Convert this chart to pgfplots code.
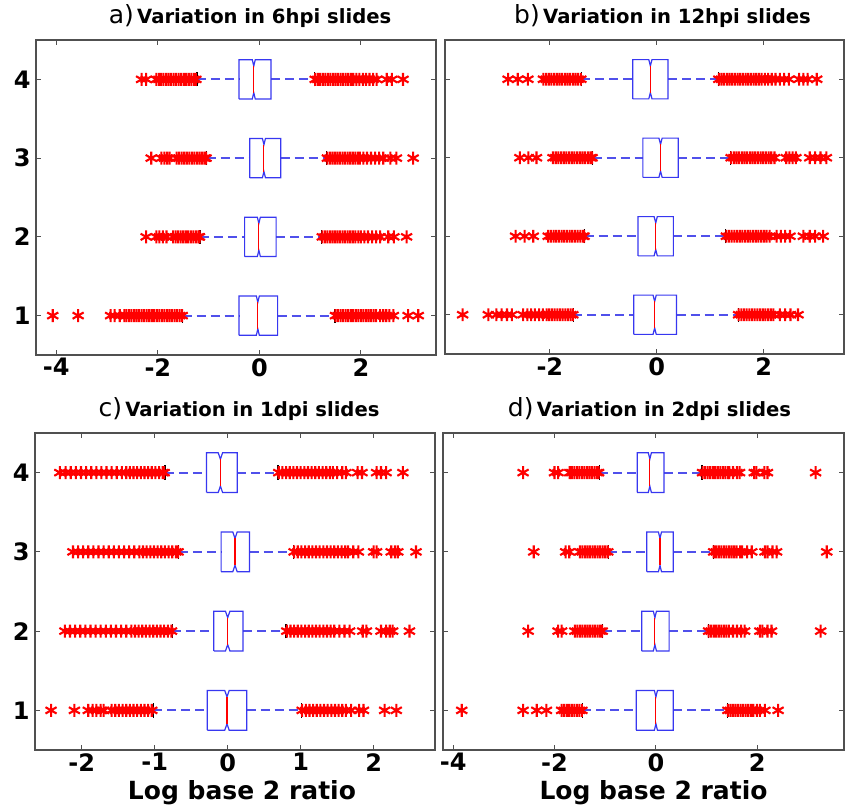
\documentclass[border=0pt]{standalone}
\usepackage{pgfplots}
\pgfplotsset{compat=1.18}
\usepackage{fontspec}
\setmainfont{DejaVu Sans}
\definecolor{bxblue}{RGB}{55,55,240}
\definecolor{wkblue}{RGB}{80,80,235}
\definecolor{frame}{RGB}{80,80,80}
\pgfplotsset{
  panel/.style={
    scale only axis, anchor=north west,
    ymin=0.5, ymax=4.5, ytick={1,2,3,4},
    tick align=inside, tick pos=both, major tick length=2.5pt,
    axis line style={frame, line width=0.6pt},
    every tick/.style={frame, line width=0.5pt},
    ticklabel style={font=\bfseries\fontsize{12}{12}\selectfont},
    xticklabel style={inner sep=1.5pt},
    yticklabel style={inner sep=2.5pt},
    /pgf/number format/assume math mode=true,
    every axis title/.style={at={(0.5,1)}, anchor=base, inner sep=0pt, yshift=8pt},
    every axis x label/.style={at={(0.5,0)}, anchor=base, inner sep=0pt, yshift=-25pt, font=\bfseries\fontsize{12.5}{13}\selectfont},
  },
  box/.style={bxblue, line width=0.6pt, mark=none},
  med/.style={red, line width=0.55pt, mark=none},
  whisk/.style={wkblue, line width=0.9pt, mark=none, dash pattern=on 4.5pt off 2.5pt},
  cap/.style={black, line width=0.6pt, mark=none},
  outl/.style={only marks, mark=asterisk, mark size=3.2pt, red, mark options={line width=1.05pt}},
}
\newcommand{\ttl}[2]{{\fontsize{12.5}{12}\selectfont #1}\,{\bfseries\fontsize{9.8}{12}\selectfont #2}}
\begin{document}
\begin{tikzpicture}
\path[use as bounding box] (0,0) rectangle (426.5pt,-406pt);
% ---------------- a ----------------
\begin{axis}[panel, at={(18pt,-20pt)}, width=200pt, height=157.5pt,
  xmin=-4.4, xmax=3.48, xtick={-4,-2,0,2},
  title={\ttl{a)}{Variation in 6hpi slides}}, title style={xshift=7pt}]
\addplot[whisk] table {
-1.23 4
-0.40 4

0.23 4
1.09 4

-1.04 3
-0.19 3

0.42 3
1.33 3

-1.17 2
-0.29 2

0.33 2
1.23 2

-1.51 1
-0.40 1

0.36 1
1.49 1
};
\addplot[outl] coordinates {
(-2.32,4)(-2.23,4)(-2.03,4)(-1.98,4)(-1.94,4)(-1.89,4)(-1.84,4)(-1.79,4)(-1.74,4)(-1.69,4)(-1.64,4)(-1.59,4)(-1.54,4)(-1.49,4)(-1.44,4)(-1.39,4)(-1.34,4)(-1.29,4)(-1.25,4)
(1.10,4)(1.15,4)(1.20,4)(1.25,4)(1.30,4)(1.35,4)(1.40,4)(1.45,4)(1.50,4)(1.55,4)(1.60,4)(1.65,4)(1.70,4)(1.75,4)(1.80,4)(1.85,4)(1.91,4)(1.97,4)(2.04,4)(2.10,4)(2.17,4)(2.24,4)(2.31,4)(2.51,4)(2.61,4)(2.83,4)
(-2.13,3)(-1.93,3)(-1.87,3)(-1.82,3)(-1.77,3)(-1.63,3)(-1.58,3)(-1.53,3)(-1.48,3)(-1.43,3)(-1.38,3)(-1.33,3)(-1.28,3)(-1.23,3)(-1.18,3)(-1.13,3)(-1.08,3)(-1.05,3)
(1.34,3)(1.39,3)(1.44,3)(1.49,3)(1.54,3)(1.59,3)(1.64,3)(1.69,3)(1.74,3)(1.79,3)(1.84,3)(1.89,3)(1.94,3)(1.98,3)(2.05,3)(2.12,3)(2.20,3)(2.28,3)(2.36,3)(2.44,3)(2.58,3)(2.70,3)(3.03,3)
(-2.23,2)(-2.03,2)(-1.97,2)(-1.90,2)(-1.83,2)(-1.70,2)(-1.65,2)(-1.60,2)(-1.55,2)(-1.50,2)(-1.45,2)(-1.40,2)(-1.35,2)(-1.30,2)(-1.25,2)(-1.20,2)(-1.18,2)
(1.24,2)(1.29,2)(1.34,2)(1.39,2)(1.44,2)(1.49,2)(1.54,2)(1.59,2)(1.64,2)(1.69,2)(1.74,2)(1.79,2)(1.84,2)(1.89,2)(1.95,2)(2.00,2)(2.07,2)(2.14,2)(2.22,2)(2.30,2)(2.38,2)(2.54,2)(2.65,2)(2.90,2)
(-4.07,1)(-3.57,1)(-2.93,1)(-2.85,1)(-2.75,1)(-2.66,1)(-2.62,1)(-2.57,1)(-2.52,1)(-2.47,1)(-2.42,1)(-2.37,1)(-2.32,1)(-2.27,1)(-2.22,1)(-2.17,1)(-2.12,1)(-2.07,1)(-2.02,1)(-1.97,1)(-1.92,1)(-1.87,1)(-1.82,1)(-1.77,1)(-1.72,1)(-1.67,1)(-1.62,1)(-1.57,1)(-1.52,1)
(1.50,1)(1.55,1)(1.60,1)(1.65,1)(1.70,1)(1.75,1)(1.80,1)(1.85,1)(1.90,1)(1.95,1)(2.00,1)(2.05,1)(2.10,1)(2.15,1)(2.20,1)(2.25,1)(2.30,1)(2.38,1)(2.44,1)(2.50,1)(2.56,1)(2.64,1)(2.93,1)(3.13,1)
};
\addplot[box] table {
-0.40 3.75
-0.14 3.75
-0.11 3.83
-0.08 3.75
0.23 3.75
0.23 4.25
-0.08 4.25
-0.11 4.17
-0.14 4.25
-0.40 4.25
-0.40 3.75

-0.19 2.75
0.06 2.75
0.09 2.83
0.12 2.75
0.42 2.75
0.42 3.25
0.12 3.25
0.09 3.17
0.06 3.25
-0.19 3.25
-0.19 2.75

-0.29 1.75
-0.04 1.75
-0.01 1.83
0.02 1.75
0.33 1.75
0.33 2.25
0.02 2.25
-0.01 2.17
-0.04 2.25
-0.29 2.25
-0.29 1.75

-0.40 0.75
-0.06 0.75
-0.03 0.83
0.00 0.75
0.36 0.75
0.36 1.25
0.00 1.25
-0.03 1.17
-0.06 1.25
-0.40 1.25
-0.40 0.75
};
\addplot[med] table {
-0.11 3.83
-0.11 4.17

0.09 2.83
0.09 3.17

-0.01 1.83
-0.01 2.17

-0.03 0.83
-0.03 1.17
};
\addplot[cap] table {
-1.23 3.91
-1.23 4.09

1.09 3.91
1.09 4.09

-1.04 2.91
-1.04 3.09

1.33 2.91
1.33 3.09

-1.17 1.91
-1.17 2.09

1.23 1.91
1.23 2.09

-1.51 0.91
-1.51 1.09

1.49 0.91
1.49 1.09
};
\end{axis}
% ---------------- b ----------------
\begin{axis}[panel, at={(222.5pt,-20pt)}, width=199.5pt, height=157pt,
  xmin=-3.96, xmax=3.5, xtick={-2,0,2}, yticklabels={},
  title={\ttl{b)}{Variation in 12hpi slides}}, title style={xshift=9pt}]
\addplot[whisk] table {
-1.41 4
-0.45 4

0.21 4
1.15 4

-1.20 3
-0.26 3

0.40 3
1.38 3

-1.35 2
-0.35 2

0.31 2
1.29 2

-1.56 1
-0.43 1

0.37 1
1.52 1
};
\addplot[outl] coordinates {
(-2.78,4)(-2.60,4)(-2.41,4)(-2.12,4)(-2.07,4)(-2.02,4)(-1.97,4)(-1.92,4)(-1.87,4)(-1.82,4)(-1.77,4)(-1.72,4)(-1.67,4)(-1.62,4)(-1.57,4)(-1.52,4)(-1.47,4)(-1.42,4)
(1.16,4)(1.21,4)(1.26,4)(1.31,4)(1.36,4)(1.41,4)(1.46,4)(1.51,4)(1.56,4)(1.61,4)(1.66,4)(1.71,4)(1.76,4)(1.81,4)(1.86,4)(1.91,4)(1.96,4)(2.02,4)(2.08,4)(2.15,4)(2.22,4)(2.30,4)(2.38,4)(2.47,4)(2.66,4)(2.74,4)(2.82,4)(2.99,4)
(-2.56,3)(-2.40,3)(-2.25,3)(-1.94,3)(-1.89,3)(-1.84,3)(-1.79,3)(-1.74,3)(-1.69,3)(-1.64,3)(-1.59,3)(-1.54,3)(-1.49,3)(-1.44,3)(-1.39,3)(-1.34,3)(-1.29,3)(-1.24,3)(-1.21,3)
(1.39,3)(1.44,3)(1.49,3)(1.54,3)(1.59,3)(1.64,3)(1.69,3)(1.74,3)(1.79,3)(1.84,3)(1.89,3)(1.94,3)(1.99,3)(2.04,3)(2.09,3)(2.14,3)(2.20,3)(2.42,3)(2.48,3)(2.54,3)(2.60,3)(2.86,3)(2.96,3)(3.06,3)(3.17,3)
(-2.64,2)(-2.47,2)(-2.31,2)(-2.03,2)(-1.98,2)(-1.93,2)(-1.88,2)(-1.83,2)(-1.78,2)(-1.73,2)(-1.68,2)(-1.63,2)(-1.58,2)(-1.53,2)(-1.48,2)(-1.43,2)(-1.38,2)(-1.36,2)
(1.30,2)(1.35,2)(1.40,2)(1.45,2)(1.50,2)(1.55,2)(1.60,2)(1.65,2)(1.70,2)(1.75,2)(1.80,2)(1.85,2)(1.90,2)(1.95,2)(2.00,2)(2.05,2)(2.11,2)(2.24,2)(2.32,2)(2.40,2)(2.49,2)(2.74,2)(2.86,2)(2.96,2)(3.11,2)
(-3.63,1)(-3.15,1)(-3.00,1)(-2.90,1)(-2.80,1)(-2.71,1)(-2.50,1)(-2.42,1)(-2.35,1)(-2.28,1)(-2.20,1)(-2.13,1)(-2.06,1)(-2.01,1)(-1.96,1)(-1.91,1)(-1.86,1)(-1.81,1)(-1.76,1)(-1.71,1)(-1.66,1)(-1.61,1)(-1.57,1)
(1.53,1)(1.58,1)(1.63,1)(1.68,1)(1.73,1)(1.78,1)(1.83,1)(1.88,1)(1.93,1)(1.98,1)(2.03,1)(2.08,1)(2.13,1)(2.18,1)(2.30,1)(2.40,1)(2.50,1)(2.64,1)
};
\addplot[box] table {
-0.45 3.75
-0.15 3.75
-0.12 3.83
-0.09 3.75
0.21 3.75
0.21 4.25
-0.09 4.25
-0.12 4.17
-0.15 4.25
-0.45 4.25
-0.45 3.75

-0.26 2.75
0.04 2.75
0.07 2.83
0.10 2.75
0.40 2.75
0.40 3.25
0.10 3.25
0.07 3.17
0.04 3.25
-0.26 3.25
-0.26 2.75

-0.35 1.75
-0.05 1.75
-0.02 1.83
0.01 1.75
0.31 1.75
0.31 2.25
0.01 2.25
-0.02 2.17
-0.05 2.25
-0.35 2.25
-0.35 1.75

-0.43 0.75
-0.07 0.75
-0.04 0.83
-0.01 0.75
0.37 0.75
0.37 1.25
-0.01 1.25
-0.04 1.17
-0.07 1.25
-0.43 1.25
-0.43 0.75
};
\addplot[med] table {
-0.12 3.83
-0.12 4.17

0.07 2.83
0.07 3.17

-0.02 1.83
-0.02 2.17

-0.04 0.83
-0.04 1.17
};
\addplot[cap] table {
-1.41 3.91
-1.41 4.09

1.15 3.91
1.15 4.09

-1.20 2.91
-1.20 3.09

1.38 2.91
1.38 3.09

-1.35 1.91
-1.35 2.09

1.29 1.91
1.29 2.09

-1.56 0.91
-1.56 1.09

1.52 0.91
1.52 1.09
};
\end{axis}
% ---------------- c ----------------
\begin{axis}[panel, at={(17.5pt,-216.5pt)}, width=200pt, height=158.5pt,
  xmin=-2.64, xmax=2.84, xtick={-2,-1,0,1,2},
  title={\ttl{c)}{Variation in 1dpi slides}}, title style={xshift=2pt},
  xlabel={Log base 2 ratio}, xlabel style={xshift=3.5pt}]
\addplot[whisk] table {
-0.86 4
-0.29 4

0.13 4
0.69 4

-0.67 3
-0.09 3

0.30 3
0.90 3

-0.76 2
-0.19 2

0.21 2
0.80 2

-1.02 1
-0.28 1

0.26 1
1.01 1
};
\addplot[outl] coordinates {
(-2.30,4)(-2.22,4)(-2.15,4)(-2.08,4)(-2.01,4)(-1.94,4)(-1.87,4)(-1.80,4)(-1.73,4)(-1.66,4)(-1.59,4)(-1.52,4)(-1.45,4)(-1.39,4)(-1.34,4)(-1.29,4)(-1.24,4)(-1.19,4)(-1.14,4)(-1.09,4)(-1.04,4)(-0.99,4)(-0.94,4)(-0.89,4)(-0.87,4)
(0.70,4)(0.75,4)(0.80,4)(0.85,4)(0.90,4)(0.95,4)(1.00,4)(1.05,4)(1.10,4)(1.15,4)(1.20,4)(1.25,4)(1.30,4)(1.35,4)(1.40,4)(1.44,4)(1.50,4)(1.57,4)(1.62,4)(1.78,4)(1.84,4)(2.04,4)(2.10,4)(2.17,4)(2.40,4)
(-2.12,3)(-2.05,3)(-1.98,3)(-1.91,3)(-1.84,3)(-1.77,3)(-1.70,3)(-1.63,3)(-1.56,3)(-1.49,3)(-1.42,3)(-1.35,3)(-1.28,3)(-1.21,3)(-1.16,3)(-1.11,3)(-1.06,3)(-1.01,3)(-0.96,3)(-0.91,3)(-0.86,3)(-0.81,3)(-0.76,3)(-0.71,3)(-0.68,3)
(0.91,3)(0.96,3)(1.01,3)(1.06,3)(1.11,3)(1.16,3)(1.21,3)(1.26,3)(1.31,3)(1.36,3)(1.41,3)(1.46,3)(1.51,3)(1.56,3)(1.61,3)(1.65,3)(1.72,3)(1.79,3)(2.00,3)(2.04,3)(2.24,3)(2.29,3)(2.33,3)(2.58,3)
(-2.23,2)(-2.16,2)(-2.09,2)(-2.02,2)(-1.95,2)(-1.88,2)(-1.81,2)(-1.74,2)(-1.67,2)(-1.60,2)(-1.53,2)(-1.46,2)(-1.39,2)(-1.32,2)(-1.27,2)(-1.22,2)(-1.17,2)(-1.12,2)(-1.07,2)(-1.02,2)(-0.97,2)(-0.92,2)(-0.87,2)(-0.82,2)(-0.77,2)
(0.81,2)(0.86,2)(0.91,2)(0.96,2)(1.01,2)(1.06,2)(1.11,2)(1.16,2)(1.21,2)(1.26,2)(1.31,2)(1.36,2)(1.41,2)(1.46,2)(1.53,2)(1.60,2)(1.67,2)(1.85,2)(1.90,2)(2.10,2)(2.17,2)(2.22,2)(2.26,2)(2.49,2)
(-2.42,1)(-2.10,1)(-1.91,1)(-1.85,1)(-1.80,1)(-1.74,1)(-1.70,1)(-1.59,1)(-1.54,1)(-1.49,1)(-1.44,1)(-1.39,1)(-1.34,1)(-1.29,1)(-1.24,1)(-1.19,1)(-1.14,1)(-1.09,1)(-1.04,1)
(1.02,1)(1.07,1)(1.12,1)(1.17,1)(1.22,1)(1.27,1)(1.32,1)(1.37,1)(1.42,1)(1.47,1)(1.52,1)(1.57,1)(1.62,1)(1.69,1)(1.80,1)(1.86,1)(2.15,1)(2.31,1)
};
\addplot[box] table {
-0.29 3.75
-0.13 3.75
-0.10 3.83
-0.07 3.75
0.13 3.75
0.13 4.25
-0.07 4.25
-0.10 4.17
-0.13 4.25
-0.29 4.25
-0.29 3.75

-0.09 2.75
0.07 2.75
0.10 2.83
0.13 2.75
0.30 2.75
0.30 3.25
0.13 3.25
0.10 3.17
0.07 3.25
-0.09 3.25
-0.09 2.75

-0.19 1.75
-0.03 1.75
0.00 1.83
0.03 1.75
0.21 1.75
0.21 2.25
0.03 2.25
0.00 2.17
-0.03 2.25
-0.19 2.25
-0.19 1.75

-0.28 0.75
-0.04 0.75
-0.01 0.83
0.02 0.75
0.26 0.75
0.26 1.25
0.02 1.25
-0.01 1.17
-0.04 1.25
-0.28 1.25
-0.28 0.75
};
\addplot[med] table {
-0.10 3.83
-0.10 4.17

0.10 2.83
0.10 3.17

0.00 1.83
0.00 2.17

-0.01 0.83
-0.01 1.17
};
\addplot[cap] table {
-0.86 3.91
-0.86 4.09

0.69 3.91
0.69 4.09

-0.67 2.91
-0.67 3.09

0.90 2.91
0.90 3.09

-0.76 1.91
-0.76 2.09

0.80 1.91
0.80 2.09

-1.02 0.91
-1.02 1.09

1.01 0.91
1.01 1.09
};
\end{axis}
% ---------------- d ----------------
\begin{axis}[panel, at={(221.5pt,-216.5pt)}, width=200.5pt, height=158.5pt,
  xmin=-4.2, xmax=3.71, xtick={-4,-2,0,2}, yticklabels={},
  title={\ttl{d)}{Variation in 2dpi slides}}, title style={xshift=3pt},
  xlabel={Log base 2 ratio}, xlabel style={xshift=5pt}]
\addplot[whisk] table {
-1.12 4
-0.37 4

0.16 4
0.91 4

-0.94 3
-0.18 3

0.34 3
1.13 3

-1.05 2
-0.28 2

0.26 2
1.03 2

-1.45 1
-0.39 1

0.34 1
1.41 1
};
\addplot[outl] coordinates {
(-2.62,4)(-2.00,4)(-1.93,4)(-1.70,4)(-1.66,4)(-1.61,4)(-1.56,4)(-1.51,4)(-1.46,4)(-1.41,4)(-1.36,4)(-1.31,4)(-1.26,4)(-1.21,4)(-1.16,4)(-1.13,4)
(0.92,4)(0.97,4)(1.02,4)(1.07,4)(1.12,4)(1.17,4)(1.22,4)(1.27,4)(1.32,4)(1.37,4)(1.42,4)(1.45,4)(1.52,4)(1.60,4)(1.65,4)(1.94,4)(1.98,4)(2.14,4)(2.20,4)(3.15,4)
(-2.41,3)(-1.78,3)(-1.71,3)(-1.50,3)(-1.45,3)(-1.40,3)(-1.35,3)(-1.30,3)(-1.25,3)(-1.20,3)(-1.15,3)(-1.10,3)(-1.05,3)(-1.00,3)(-0.95,3)
(1.14,3)(1.19,3)(1.24,3)(1.29,3)(1.34,3)(1.39,3)(1.44,3)(1.49,3)(1.54,3)(1.59,3)(1.66,3)(1.70,3)(1.80,3)(1.89,3)(2.15,3)(2.20,3)(2.30,3)(2.38,3)(3.37,3)
(-2.52,2)(-1.93,2)(-1.86,2)(-1.60,2)(-1.55,2)(-1.50,2)(-1.45,2)(-1.40,2)(-1.35,2)(-1.30,2)(-1.25,2)(-1.20,2)(-1.15,2)(-1.10,2)(-1.06,2)
(1.04,2)(1.09,2)(1.14,2)(1.19,2)(1.24,2)(1.29,2)(1.34,2)(1.39,2)(1.44,2)(1.52,2)(1.60,2)(1.68,2)(1.75,2)(2.05,2)(2.10,2)(2.20,2)(2.28,2)(3.25,2)
(-3.83,1)(-2.62,1)(-2.35,1)(-2.16,1)(-1.86,1)(-1.81,1)(-1.76,1)(-1.71,1)(-1.66,1)(-1.61,1)(-1.56,1)(-1.51,1)(-1.46,1)
(1.42,1)(1.47,1)(1.52,1)(1.57,1)(1.62,1)(1.67,1)(1.72,1)(1.77,1)(1.82,1)(1.87,1)(1.92,1)(1.99,1)(2.05,1)(2.15,1)(2.41,1)
};
\addplot[box] table {
-0.37 3.75
-0.15 3.75
-0.12 3.83
-0.09 3.75
0.16 3.75
0.16 4.25
-0.09 4.25
-0.12 4.17
-0.15 4.25
-0.37 4.25
-0.37 3.75

-0.18 2.75
0.05 2.75
0.08 2.83
0.11 2.75
0.34 2.75
0.34 3.25
0.11 3.25
0.08 3.17
0.05 3.25
-0.18 3.25
-0.18 2.75

-0.28 1.75
-0.05 1.75
-0.02 1.83
0.01 1.75
0.26 1.75
0.26 2.25
0.01 2.25
-0.02 2.17
-0.05 2.25
-0.28 2.25
-0.28 1.75

-0.39 0.75
-0.03 0.75
0.00 0.83
0.03 0.75
0.34 0.75
0.34 1.25
0.03 1.25
0.00 1.17
-0.03 1.25
-0.39 1.25
-0.39 0.75
};
\addplot[med] table {
-0.12 3.83
-0.12 4.17

0.08 2.83
0.08 3.17

-0.02 1.83
-0.02 2.17

0.00 0.83
0.00 1.17
};
\addplot[cap] table {
-1.12 3.91
-1.12 4.09

0.91 3.91
0.91 4.09

-0.94 2.91
-0.94 3.09

1.13 2.91
1.13 3.09

-1.05 1.91
-1.05 2.09

1.03 1.91
1.03 2.09

-1.45 0.91
-1.45 1.09

1.41 0.91
1.41 1.09
};
\end{axis}
\end{tikzpicture}
\end{document}
